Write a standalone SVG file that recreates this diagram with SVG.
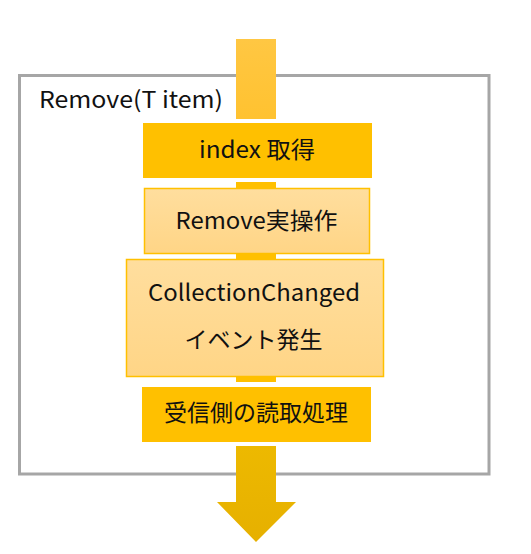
<svg xmlns="http://www.w3.org/2000/svg" width="531" height="554" viewBox="0 0 531 554">
<defs>
<linearGradient id="gTop" x1="0" y1="0" x2="0" y2="1"><stop offset="0" stop-color="#FFC743"/><stop offset="1" stop-color="#FFC230"/></linearGradient>
<linearGradient id="gLight" x1="0" y1="0" x2="0" y2="1"><stop offset="0" stop-color="#FFDE9E"/><stop offset="1" stop-color="#FFD586"/></linearGradient>
<linearGradient id="gArrow" x1="0" y1="0" x2="0" y2="1"><stop offset="0" stop-color="#EDB900"/><stop offset="1" stop-color="#E6B000"/></linearGradient>
<style>
.frame{fill:none;stroke:#A6A6A6;stroke-width:3}
.dark{fill:#FFC000}
.light{fill:url(#gLight);stroke:#FFC000;stroke-width:1.5}
.bar{fill:#FFC000}
text{font-family:"Noto Sans CJK JP","Noto Sans",sans-serif;font-size:23px;fill:#111}
.c{text-anchor:middle}
</style>
</defs>
<g id="frame">
<rect class="frame" x="19.5" y="75.5" width="469.5" height="398.5"/>
<text x="39" y="108" textLength="184" lengthAdjust="spacingAndGlyphs">Remove(T item)</text>
</g>
<g id="connectors">
<rect x="236" y="39" width="40" height="80" fill="url(#gTop)"/>
<rect class="bar" x="236" y="182" width="40" height="6"/>
<rect class="bar" x="236" y="254" width="40" height="5"/>
<rect class="bar" x="236" y="377" width="40" height="5"/>
<path d="M236,446 H276 V502 H296 L256,542 L217,502 H236 Z" fill="url(#gArrow)"/>
</g>
<g id="node-index">
<rect class="dark" x="143" y="123" width="229" height="55"/>
<text class="c" x="257" y="158" textLength="116" lengthAdjust="spacingAndGlyphs">index 取得</text>
</g>
<g id="node-remove">
<rect class="light" x="144.5" y="188.5" width="225" height="65"/>
<text class="c" x="256.5" y="229" textLength="162" lengthAdjust="spacingAndGlyphs">Remove実操作</text>
</g>
<g id="node-event">
<rect class="light" x="126.5" y="259.5" width="257" height="117"/>
<text class="c" x="254" y="301" textLength="212" lengthAdjust="spacingAndGlyphs">CollectionChanged</text>
<text class="c" x="253.5" y="348">イベント発生</text>
</g>
<g id="node-receive">
<rect class="dark" x="142" y="387" width="229" height="55"/>
<text class="c" x="256" y="421">受信側の読取処理</text>
</g>
</svg>
